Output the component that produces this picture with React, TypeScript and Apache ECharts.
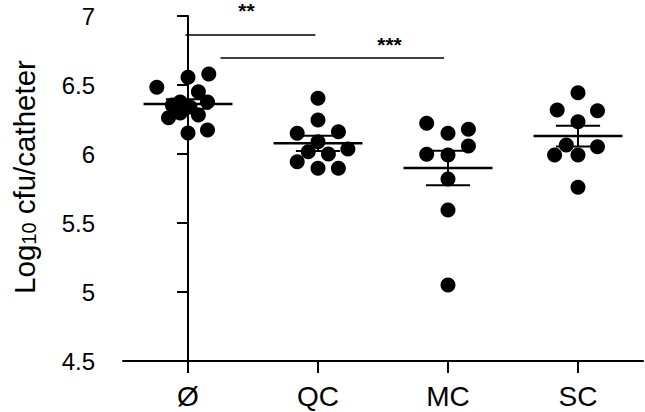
import React, { useEffect, useRef } from "react";
import * as echarts from "echarts";

const categories = ["Ø", "QC", "MC", "SC"];
const yMin = 4.5;
const yMax = 7;
const yInterval = 0.5;

// cfu values (log10) per group
const valuesNone = [6.483, 6.556, 6.58, 6.451, 6.355, 6.377, 6.341, 6.377, 6.262, 6.297, 6.283, 6.152, 6.174];
const valuesQC = [6.404, 6.246, 6.15, 6.162, 6.089, 6.017, 6.0, 6.036, 5.944, 5.896, 5.896];
const valuesMC = [6.222, 6.15, 6.179, 6.058, 5.998, 5.993, 5.819, 5.594, 5.051];
const valuesSC = [6.444, 6.319, 6.314, 6.234, 6.053, 6.065, 5.993, 5.993, 5.759];

// horizontal scatter offsets (jitter) of each dot, in category units
const jitterNone = [-0.24, 0, 0.16, 0.08, -0.12, -0.06, 0.015, 0.15, -0.15, -0.06, 0.08, 0, 0.15];
const jitterQC = [0, 0, -0.16, 0.157, 0, -0.075, 0.08, 0.23, -0.16, 0, 0.157];
const jitterMC = [-0.164, 0, 0.157, 0.157, -0.164, 0, 0, 0, 0];
const jitterSC = [0, -0.16, 0.15, 0, 0.15, -0.09, -0.18, 0, 0];

const means = [6.362, 6.077, 5.899, 6.13];
const sems = [0.035, 0.055, 0.125, 0.075];

// significance brackets
const sigFrom = [-0.02, 0.25];
const sigTo = [0.98, 1.97];
const sigY = [6.862, 6.696];
const sigLabels = ["**", "***"];
const sigLabelX = [0.45, 1.55];
const sigLabelY = [7.115, 6.87];

const FONT = "'Liberation Sans', Arial, Helvetica, sans-serif";

export default function App() {
  const ref = useRef<HTMLDivElement>(null);

  useEffect(() => {
    if (!ref.current) return;
    const chart = echarts.init(ref.current, undefined, { renderer: "svg" });

    const groups = [valuesNone, valuesQC, valuesMC, valuesSC];
    const jitters = [jitterNone, jitterQC, jitterMC, jitterSC];
    const dots: number[][] = [];
    groups.forEach((vals, gi) => {
      vals.forEach((v, i) => dots.push([gi + jitters[gi][i], v]));
    });

    const errData = means.map((m, i) => [i, m, sems[i]]);
    const sigData = sigFrom.map((f, i) => [f, sigTo[i], sigY[i], sigLabelX[i], sigLabelY[i], i]);

    const option: any = {
      animation: false,
      backgroundColor: "#fff",
      grid: { left: 123, right: 2, top: 16, bottom: 51, containLabel: false },
      xAxis: [
        {
          type: "category",
          data: categories,
          boundaryGap: true,
          axisLine: { show: true, lineStyle: { color: "#000", width: 2 } },
          axisTick: { show: true, alignWithLabel: true, length: 12, lineStyle: { color: "#000", width: 2 } },
          axisLabel: { color: "#000", fontSize: 28, fontFamily: FONT, margin: 21 },
          splitLine: { show: false },
        },
        { type: "value", min: -0.5, max: 3.5, show: false },
      ],
      yAxis: {
        type: "value",
        min: yMin,
        max: yMax,
        interval: yInterval,
        axisLine: { show: true, lineStyle: { color: "#000", width: 2 } },
        axisTick: { show: true, length: 11, lineStyle: { color: "#000", width: 2 } },
        axisLabel: { color: "#000", fontSize: 24, fontFamily: FONT, margin: 28 },
        splitLine: { show: false },
      },
      graphic: [
        {
          type: "text",
          x: 24,
          y: 177,
          rotation: Math.PI / 2,
          style: {
            text: "{a|Log}{s|10}{a| cfu/catheter}",
            align: "center",
            verticalAlign: "middle",
            fill: "#000",
            rich: {
              a: { fontSize: 29.5, lineHeight: 30, fontFamily: FONT, verticalAlign: "top", color: "#000" },
              s: { fontSize: 20, lineHeight: 20, fontFamily: FONT, verticalAlign: "bottom", padding: [12, 0, 0, 0], color: "#000" },
            },
          },
        },
      ],
      series: [
        {
          type: "scatter",
          xAxisIndex: 1,
          data: dots,
          symbol: "circle",
          symbolSize: 15,
          itemStyle: { color: "#000", opacity: 1 },
          z: 2,
        },
        {
          type: "custom",
          xAxisIndex: 1,
          data: errData,
          z: 3,
          renderItem: (params: any, api: any) => {
            const x = api.value(0);
            const m = api.value(1);
            const s = api.value(2);
            const c = api.coord([x, m]);
            const t = api.coord([x, m + s]);
            const b = api.coord([x, m - s]);
            const w = api.size([1, 0])[0];
            const mh = w * 0.342;
            const wh = w * 0.17;
            return {
              type: "group",
              children: [
                { type: "line", shape: { x1: c[0] - mh, y1: c[1], x2: c[0] + mh, y2: c[1] }, style: { stroke: "#000", lineWidth: 2.5 } },
                { type: "line", shape: { x1: t[0] - wh, y1: t[1], x2: t[0] + wh, y2: t[1] }, style: { stroke: "#000", lineWidth: 2 } },
                { type: "line", shape: { x1: b[0] - wh, y1: b[1], x2: b[0] + wh, y2: b[1] }, style: { stroke: "#000", lineWidth: 2 } },
                { type: "line", shape: { x1: t[0], y1: t[1], x2: b[0], y2: b[1] }, style: { stroke: "#000", lineWidth: 2 } },
              ],
            };
          },
        },
        {
          type: "custom",
          xAxisIndex: 1,
          data: sigData,
          z: 3,
          clip: false,
          renderItem: (params: any, api: any) => {
            const p1 = api.coord([api.value(0), api.value(2)]);
            const p2 = api.coord([api.value(1), api.value(2)]);
            const lp = api.coord([api.value(3), api.value(4)]);
            const idx = api.value(5);
            return {
              type: "group",
              children: [
                { type: "line", shape: { x1: p1[0], y1: p1[1], x2: p2[0], y2: p2[1] }, style: { stroke: "#000", lineWidth: 1.5 } },
                {
                  type: "text",
                  x: lp[0],
                  y: lp[1],
                  style: {
                    text: sigLabels[idx],
                    fontSize: 21,
                    fontWeight: "bold",
                    fontFamily: FONT,
                    fill: "#000",
                    align: "center",
                    verticalAlign: "top",
                  },
                },
              ],
            };
          },
        },
      ],
    };

    chart.setOption(option);
    return () => chart.dispose();
  }, []);

  return (
    <div
      ref={ref}
      style={{ position: "absolute", left: 0, top: 0, width: 645, height: 412, background: "#fff" }}
    />
  );
}
